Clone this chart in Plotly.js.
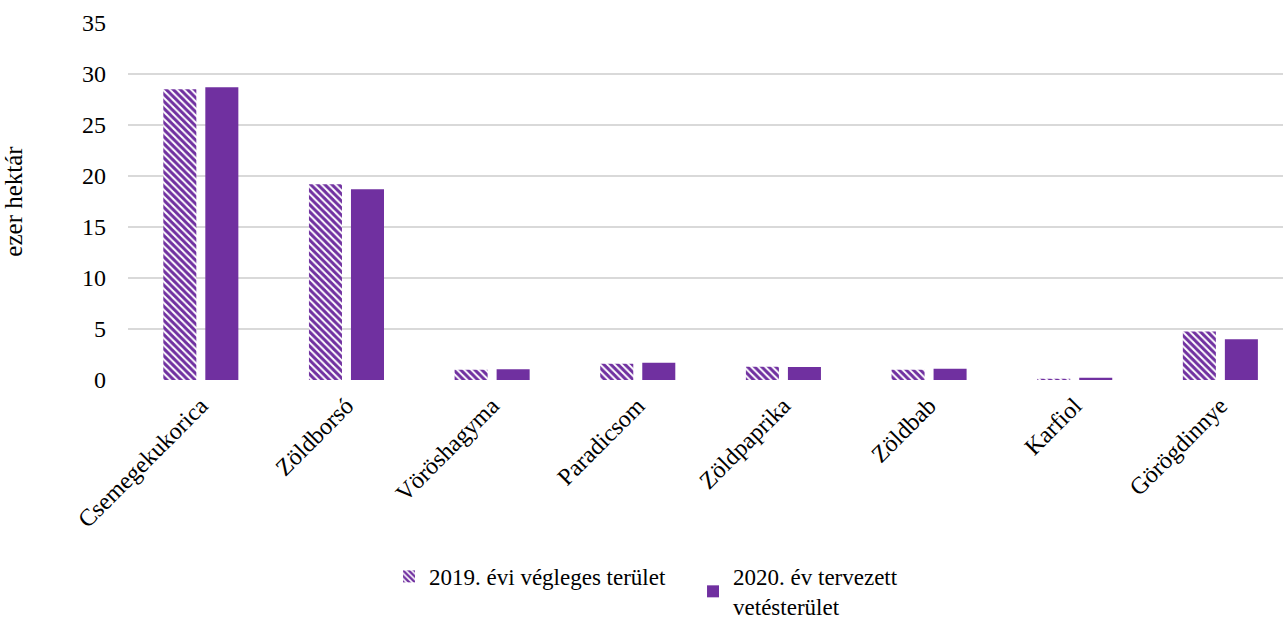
<!DOCTYPE html>
<html>
<head>
<meta charset="utf-8">
<script src="https://cdn.plot.ly/plotly-3.0.1.min.js"></script>
<style>html,body{margin:0;padding:0;background:#fff;}#chart{width:1283px;height:627px;}</style>
</head>
<body>
<div id="chart"></div>
<script>
const categories = ["Csemegekukorica","Zöldborsó","Vöröshagyma","Paradicsom","Zöldpaprika","Zöldbab","Karfiol","Görögdinnye"];
const values2019 = [28.5, 19.2, 1.0, 1.6, 1.3, 1.0, 0.13, 4.75];
const values2020 = [28.7, 18.7, 1.05, 1.7, 1.27, 1.1, 0.22, 4.0];
const seriesNames = ["2019. évi végleges terület", "2020. év tervezett<br>vetésterület"];
const yTicks = [0,5,10,15,20,25,30,35];

const purple = "#7030A0";
const fam = '"Liberation Serif", "Times New Roman", serif';

const traces = [
  {
    type: "bar", x: categories, y: values2019, name: seriesNames[0],
    marker: {color: purple, line: {width: 0},
      pattern: {shape: "\\", fgcolor: purple, bgcolor: "#ffffff", size: 5, solidity: 0.6, fillmode: "replace"}},
    hoverinfo: "x+y"
  },
  {
    type: "bar", x: categories, y: values2020, name: seriesNames[1],
    marker: {color: purple, line: {width: 0}},
    hoverinfo: "x+y"
  }
];

const layout = {
  width: 1283, height: 627,
  margin: {l: 128, r: 0, t: 23, b: 247, autoexpand: false},
  paper_bgcolor: "#fff", plot_bgcolor: "#fff",
  font: {family: fam, size: 23, color: "#000"},
  barmode: "group", bargap: 0.423, bargroupgap: 0.214,
  showlegend: true,
  legend: {orientation: "h", x: 0.226, y: -0.49, xanchor: "left", yanchor: "top",
    font: {family: fam, size: 23, color: "#000"}, traceorder: "normal",
    itemwidth: 30, entrywidth: 259},
  xaxis: {
    type: "category", range: [-0.5, 7.43], automargin: false,
    tickangle: -45, showgrid: false, zeroline: false, showline: false,
    ticks: "", ticklabelstandoff: 6,
    tickfont: {family: fam, size: 24, color: "#000"}
  },
  yaxis: {
    range: [0, 35], tickvals: yTicks, ticktext: yTicks.map(String), automargin: false,
    showgrid: true, gridcolor: "#d9d9d9", gridwidth: 1.5,
    zeroline: false, showline: false, ticks: "",
    ticklabelstandoff: 21,
    tickfont: {family: fam, size: 24, color: "#000"},
    title: {text: "ezer hektár", font: {family: fam, size: 25, color: "#000"}, standoff: 52}
  }
};

Plotly.newPlot("chart", traces, layout, {displayModeBar: false, staticPlot: true});
</script>
</body>
</html>
